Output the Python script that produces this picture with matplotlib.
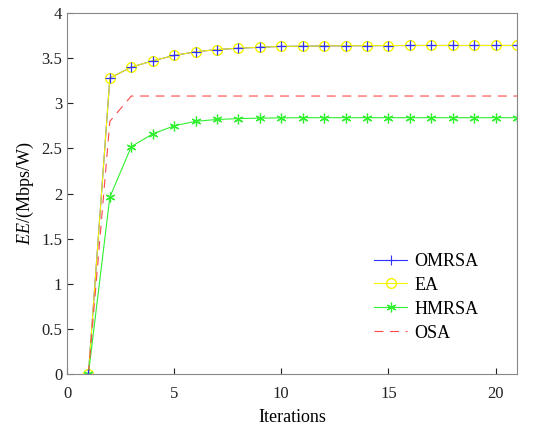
import matplotlib
matplotlib.use("Agg")
import matplotlib.pyplot as plt

plt.rcParams['font.family'] = ['Liberation Serif', 'DejaVu Serif']
plt.rcParams['mathtext.fontset'] = 'custom'
plt.rcParams['mathtext.it'] = 'Liberation Serif:italic'
plt.rcParams['mathtext.rm'] = 'Liberation Serif'

iterations = list(range(1, 22))
omrsa = [0, 3.28, 3.40, 3.47, 3.53, 3.57, 3.595, 3.61, 3.62, 3.63, 3.632,
         3.635, 3.637, 3.638, 3.639, 3.64, 3.64, 3.64, 3.64, 3.64, 3.64]
ea = list(omrsa)
hmrsa = [0, 1.96, 2.52, 2.66, 2.75, 2.80, 2.82, 2.83, 2.835, 2.838, 2.84,
         2.84, 2.84, 2.84, 2.84, 2.84, 2.84, 2.84, 2.84, 2.84, 2.84]
osa = [0, 2.80] + [3.08] * 19

fig = plt.figure(figsize=(5.41, 4.29), dpi=100)
ax = fig.add_axes([67 / 541, 1 - 374 / 429, 450 / 541, 361 / 429])

ax.plot(iterations, omrsa, color="#3030ff", marker="+", markersize=7, mew=0.8, lw=0.8, label="OMRSA")
ax.plot(iterations, ea, color="#f5f500", marker="o", markersize=7, mfc="none", mew=1.0, lw=0.8, label="EA")
ax.plot(iterations, hmrsa, color="#30f030", marker=(6, 2, 0), markersize=7, mew=0.9, lw=0.8, label="HMRSA")
ax.plot(iterations, osa, color="#ff4848", ls=(0, (8, 6)), lw=0.8, label="OSA")
# redraw OMRSA crosses on top of the yellow circles
ax.plot(iterations, omrsa, color="#3030ff", marker="+", markersize=7, mew=0.8, lw=0, label="_nolegend_")

ax.set_xlim(0, 21)
ax.set_ylim(0, 4)
ax.set_xticks([0, 5, 10, 15, 20])
ax.set_yticks([0, 0.5, 1, 1.5, 2, 2.5, 3, 3.5, 4])
ax.set_yticklabels(["0", "0.5", "1", "1.5", "2", "2.5", "3", "3.5", "4"])
ax.tick_params(direction="in", labelsize=12, colors="#222222", length=4)
ax.tick_params(axis="x", pad=9)
for s in ax.spines.values():
    s.set_color("#888888")
ax.set_xlabel("Iterations", fontsize=13, labelpad=5)
ax.set_ylabel(r"$EE$/(Mbps/W)", fontsize=13)

ax.legend(loc="lower right", bbox_to_anchor=(0.95, 0.045), frameon=False, fontsize=13,
          handlelength=1.8, handletextpad=0.4, labelspacing=0.38)

fig.savefig("out.png", dpi=100)
